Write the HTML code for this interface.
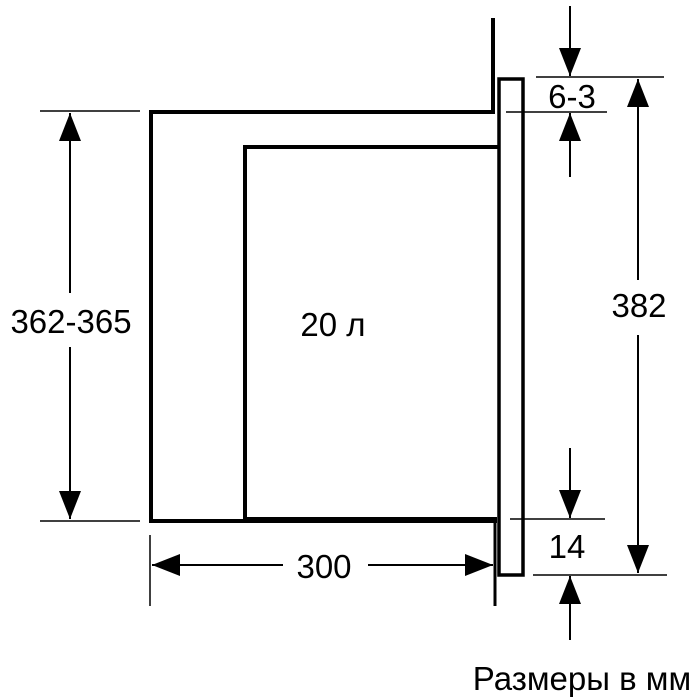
<!DOCTYPE html>
<html><head><meta charset="utf-8"><style>body{margin:0;background:#fff}svg{display:block}</style></head><body>
<svg width="700" height="700" viewBox="0 0 700 700" xmlns="http://www.w3.org/2000/svg" font-family="Liberation Sans, sans-serif">
<defs>
<marker id="b" viewBox="0 0 28 22" refX="28" refY="11" markerWidth="28" markerHeight="22" markerUnits="userSpaceOnUse" orient="auto"><path d="M0,0L28,11L0,22z"/></marker>
</defs>
<g fill="none" stroke="#000">
<polyline points="493,18 493,112 151,112 151,521 497,521" stroke-width="4"/>
<polyline points="245,521 245,147 498,147" stroke-width="4"/>
<line x1="245" y1="519" x2="497" y2="519" stroke-width="4"/>
<rect x="499" y="79" width="24" height="496" stroke-width="3.5"/>
<line x1="495" y1="522" x2="495" y2="606" stroke-width="3"/>
<g stroke-width="1.5">
<line x1="40" y1="111" x2="140" y2="111"/>
<line x1="40" y1="521" x2="140" y2="521"/>
<line x1="150" y1="535" x2="150" y2="606"/>
<line x1="536" y1="77" x2="664" y2="77"/>
<line x1="506" y1="112" x2="607" y2="112"/>
<line x1="510" y1="519" x2="605" y2="519"/>
<line x1="533" y1="575" x2="667" y2="575"/>
</g>
<g stroke-width="2">
<line x1="70" y1="293" x2="70" y2="113" marker-end="url(#b)"/>
<line x1="70" y1="347" x2="70" y2="519" marker-end="url(#b)"/>
<line x1="283" y1="565" x2="152" y2="565" marker-end="url(#b)"/>
<line x1="368" y1="565" x2="493" y2="565" marker-end="url(#b)"/>
<line x1="570" y1="6" x2="570" y2="76" marker-end="url(#b)"/>
<line x1="570" y1="177" x2="570" y2="113" marker-end="url(#b)"/>
<line x1="570" y1="448" x2="570" y2="518" marker-end="url(#b)"/>
<line x1="570" y1="640" x2="570" y2="576" marker-end="url(#b)"/>
<line x1="638" y1="280" x2="638" y2="79" marker-end="url(#b)"/>
<line x1="638" y1="335" x2="638" y2="573" marker-end="url(#b)"/>
</g>
</g>
<g font-size="33" text-anchor="middle" fill="#000">
<text x="71" y="333">362-365</text>
<text x="333" y="336">20 л</text>
<text x="324" y="578">300</text>
<text x="572" y="108">6-3</text>
<text x="567" y="558">14</text>
<text x="639" y="317">382</text>
</g>
<text x="582" y="690" font-size="33" text-anchor="middle">Размеры в мм</text>
</svg>
</body></html>
